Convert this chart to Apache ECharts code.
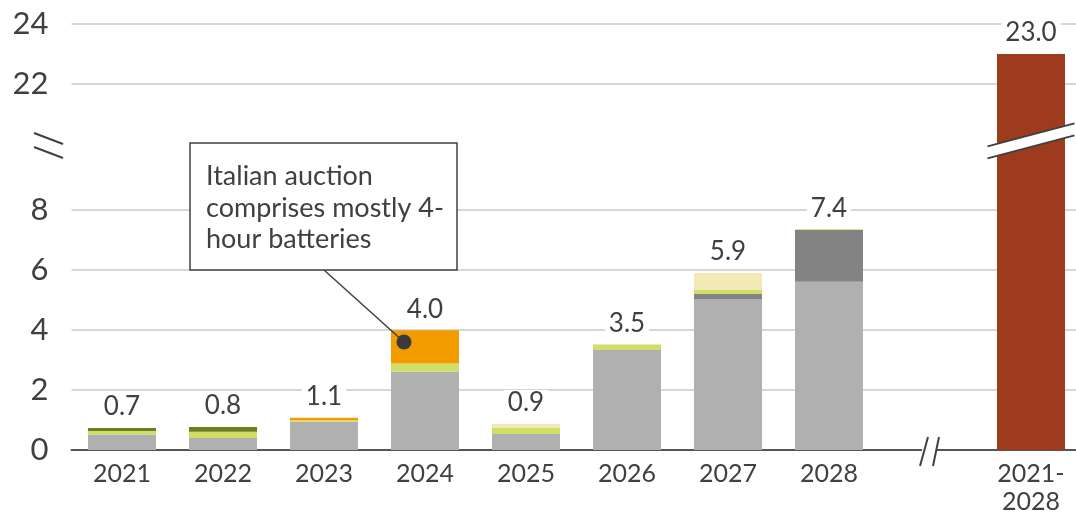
<!DOCTYPE html>
<html>
<head>
<meta charset="utf-8">
<script src="https://cdn.jsdelivr.net/npm/echarts@6/dist/echarts.min.js"></script>
<style>
  html, body { margin: 0; padding: 0; background: #fff; }
  #chart { width: 1076px; height: 513px; }
</style>
</head>
<body>
<div id="chart"></div>
<script>
// categories (the empty one is the gap with the axis break)
var categories = ['2021', '2022', '2023', '2024', '2025', '2026', '2027', '2028', '', '2021-\n2028']

// stacked segments, bottom to top
var grayBase   = [0.52, 0.40, 0.94, 2.61, 0.53, 3.33, 5.03, 5.61]
var darkGray   = [0, 0, 0, 0, 0, 0, 0.17, 1.72]
var lightGreen = [0.11, 0.21, 0.05, 0.27, 0.20, 0.19, 0.13, 0.03]
var orange     = [0, 0, 0.08, 1.11, 0, 0, 0, 0]
var paleYellow = [0, 0, 0.02, 0, 0.14, 0, 0.57, 0]
var darkGreen  = [0.10, 0.16, 0, 0, 0, 0, 0, 0]

// labels on top of the bars
var totals = [0.7, 0.8, 1.1, 4.0, 0.9, 3.5, 5.9, 7.4, null, 23.0]

// y tick labels (axis is broken between 8 and 22)
var yTicks = [0, 2, 4, 6, 8, 22, 24]

var BREAK_SHIFT = 9.8
function toAxis(v) { return v > 10 ? v - BREAK_SHIFT : v }
function fromAxis(v) { return v > 10 ? v + BREAK_SHIFT : v }

var textColor = '#404040'
var fontFamily = 'Lato, "Open Sans", sans-serif'

function pad(arr) {
  var out = arr.slice()
  while (out.length < categories.length) out.push(null)
  return out
}

var segs = [
  { name: 'base', data: grayBase, color: '#b0b0b0' },
  { name: 'dark gray', data: darkGray, color: '#838383' },
  { name: 'light green', data: lightGreen, color: '#d0dd68' },
  { name: 'orange', data: orange, color: '#f39c00' },
  { name: 'pale yellow', data: paleYellow, color: '#f3e9b4' },
  { name: 'dark green', data: darkGreen, color: '#6b7f1d' }
]

var series = segs.map(function (s) {
  return {
    name: s.name,
    type: 'bar',
    stack: 'all',
    barWidth: 68,
    itemStyle: { color: s.color },
    data: pad(s.data)
  }
})

// the 2021-2028 total bar, drawn on the broken part of the axis
var overall = categories.map(function (c, i) {
  return i === categories.length - 1 ? toAxis(totals[i]) : null
})
series.push({
  name: 'total',
  type: 'bar',
  stack: 'all',
  barWidth: 68,
  itemStyle: { color: '#9e3b1d' },
  data: overall
})

// invisible points carrying the value labels
var labelPos = categories.map(function (c, i) {
  if (totals[i] == null) return null
  if (i === categories.length - 1) return toAxis(totals[i])
  var sum = 0
  segs.forEach(function (s) { sum += s.data[i] || 0 })
  return sum
})
series.push({
  name: 'labels',
  type: 'scatter',
  symbolSize: 0,
  silent: true,
  z: 5,
  itemStyle: { opacity: 1 },
  label: {
    show: true,
    position: 'top',
    distance: 8,
    color: textColor,
    fontFamily: fontFamily,
    fontSize: 26,
    backgroundColor: '#fff',
    padding: [0, 4],
    formatter: function (p) { return totals[p.dataIndex].toFixed(1) }
  },
  data: labelPos
})

var myChart = echarts.init(document.getElementById('chart'))

var option = {
  animation: false,
  textStyle: { fontFamily: fontFamily },
  grid: { left: 71.5, right: -5.5, top: 24, bottom: 63, outerBoundsMode: 'none' },
  xAxis: {
    type: 'category',
    data: categories,
    axisLine: { show: true, lineStyle: { color: '#555', width: 2 } },
    axisTick: { show: false },
    axisLabel: {
      color: textColor,
      fontSize: 25,
      lineHeight: 28,
      margin: 10,
      interval: 0
    }
  },
  yAxis: {
    type: 'value',
    min: 0,
    max: toAxis(24),
    axisLine: { show: false },
    axisTick: { show: false, customValues: yTicks.map(toAxis) },
    axisLabel: {
      customValues: yTicks.map(toAxis),
      color: textColor,
      fontSize: 31,
      margin: 23,
      formatter: function (v) { return String(Math.round(fromAxis(v))) }
    },
    splitLine: { show: true, lineStyle: { color: '#c8c8c8', width: 1.5 } }
  },
  series: series
}
myChart.setOption(option, true)

// break marks and the callout
var lineStyle = { stroke: '#404040', lineWidth: 2 }
var graphics = []

// break on the y axis
var yb = myChart.convertToPixel({ yAxisIndex: 0 }, 10.15)
graphics.push(
  { type: 'line', shape: { x1: 34, y1: yb - 12.5, x2: 63, y2: yb - 1.5 }, style: lineStyle, z: 10 },
  { type: 'line', shape: { x1: 34, y1: yb + 1.5, x2: 63, y2: yb + 12.5 }, style: lineStyle, z: 10 }
)

// break on the x axis, in the gap category
var xb = myChart.convertToPixel({ xAxisIndex: 0, yAxisIndex: 0 }, [8, 0])
graphics.push(
  { type: 'rect', shape: { x: xb[0] - 8, y: xb[1] - 3, width: 15, height: 6 }, style: { fill: '#fff' }, z: 10 },
  { type: 'line', shape: { x1: xb[0] - 2, y1: xb[1] - 13, x2: xb[0] - 10, y2: xb[1] + 16 }, style: lineStyle, z: 11 },
  { type: 'line', shape: { x1: xb[0] + 9, y1: xb[1] - 13, x2: xb[0] + 3, y2: xb[1] + 16 }, style: lineStyle, z: 11 }
)

// break across the total bar
var bb = myChart.convertToPixel({ xAxisIndex: 0, yAxisIndex: 0 }, [9, 10.3])
var bx1 = bb[0] - 43.5, bx2 = bb[0] + 43.5
graphics.push(
  { type: 'polygon', shape: { points: [[bx1, bb[1] + 5.4], [bx2, bb[1] - 17.6], [bx2, bb[1] - 5.6], [bx1, bb[1] + 17.4]] }, style: { fill: '#fff' }, z: 10 },
  { type: 'line', shape: { x1: bx1, y1: bb[1] + 5.4, x2: bx2, y2: bb[1] - 17.6 }, style: lineStyle, z: 11 },
  { type: 'line', shape: { x1: bx1, y1: bb[1] + 17.4, x2: bx2, y2: bb[1] - 5.6 }, style: lineStyle, z: 11 }
)

// callout pointing at the 2024 orange segment
var dot = myChart.convertToPixel({ xAxisIndex: 0, yAxisIndex: 0 }, [3, 3.6])
var dotX = dot[0] - 21
graphics.push(
  { type: 'line', shape: { x1: 324, y1: 270, x2: dotX, y2: dot[1] }, style: { stroke: '#404040', lineWidth: 1.5 }, z: 10 },
  { type: 'circle', shape: { cx: dotX, cy: dot[1], r: 7.5 }, style: { fill: '#3a3a3a' }, z: 11 },
  { type: 'rect', shape: { x: 190, y: 143, width: 267, height: 127 }, style: { fill: '#fff', stroke: '#404040', lineWidth: 1.5 }, z: 10 },
  {
    type: 'text', x: 206, y: 161, z: 11,
    style: {
      text: 'Italian auction\ncomprises mostly 4-\nhour batteries',
      fill: textColor,
      font: '27px ' + fontFamily,
      lineHeight: 31.5,
      verticalAlign: 'top'
    }
  }
)

myChart.setOption({ graphic: graphics })
</script>
</body>
</html>
